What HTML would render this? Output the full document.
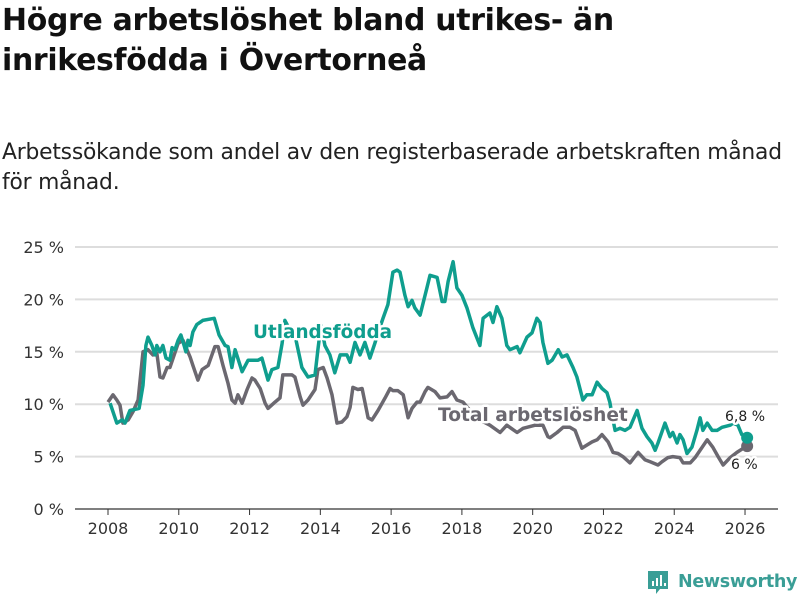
<!DOCTYPE html>
<html><head><meta charset="utf-8">
<style>
body{margin:0;width:800px;height:600px;background:#fff;font-family:"DejaVu Sans","Liberation Sans",sans-serif;overflow:hidden;position:relative;color:#111}
#title{position:absolute;left:2px;top:1px;font-size:29.9px;font-weight:bold;line-height:40px;margin:0;letter-spacing:-0.3px}
#subtitle{position:absolute;left:2px;top:138px;font-size:21.8px;line-height:30px;margin:0;color:#222;letter-spacing:-0.2px}
#chart{position:absolute;left:0;top:0}
#logo{position:absolute;left:646px;top:569px;display:flex;align-items:center;color:#3a9e96;font-size:17.5px;font-weight:bold;letter-spacing:-0.3px}
</style></head><body>
<h1 id="title">Högre arbetslöshet bland utrikes- än<br>inrikesfödda i Övertorneå</h1>
<p id="subtitle">Arbetssökande som andel av den registerbaserade arbetskraften månad<br>för månad.</p>
<svg id="chart" width="800" height="600"></svg>
<div id="logo"><svg width="24" height="26" style="margin-right:8px"><path d="M2 2h20v18h-8l-4 5v-5H2z" fill="#3a9e96"/><rect x="6" y="12" width="2" height="5" fill="#fff"/><rect x="10" y="9" width="2" height="8" fill="#fff"/><rect x="14" y="6" width="2" height="11" fill="#fff"/><rect x="18" y="14" width="2" height="3" fill="#fff"/></svg>Newsworthy</div>
<script>
const yTicks=[0,5,10,15,20,25];
const xTicks=[2008,2010,2012,2014,2016,2018,2020,2022,2024,2026];
const utlT=[0.06,0.25,0.40,0.48,0.62,0.88,0.99,1.07,1.13,1.24,1.33,1.38,1.47,1.55,1.64,1.75,1.81,1.89,1.98,2.06,2.15,2.20,2.26,2.32,2.40,2.51,2.68,3.00,3.14,3.31,3.39,3.50,3.59,3.79,3.96,4.24,4.35,4.52,4.63,4.80,4.92,5.00,5.14,5.28,5.48,5.65,5.85,5.93,6.02,6.13,6.27,6.41,6.56,6.75,6.84,6.98,7.12,7.26,7.40,7.54,7.66,7.77,7.91,8.05,8.17,8.25,8.39,8.48,8.59,8.67,8.82,9.01,9.10,9.30,9.44,9.52,9.61,9.75,9.86,10.00,10.14,10.31,10.51,10.60,10.79,10.88,10.99,11.13,11.27,11.36,11.56,11.64,11.84,11.98,12.12,12.21,12.29,12.43,12.55,12.72,12.83,12.97,13.14,13.25,13.42,13.53,13.68,13.82,13.96,14.10,14.18,14.24,14.33,14.47,14.61,14.75,14.95,15.09,15.23,15.37,15.46,15.54,15.74,15.88,15.96,16.08,16.16,16.25,16.36,16.50,16.64,16.73,16.81,16.93,17.07,17.21,17.35,17.58,17.66,17.80,17.91,18.06];
const utlV=[10.1,8.2,8.5,8.2,9.4,9.6,11.8,15.6,16.4,15.6,14.7,15.6,15.0,15.6,14.4,14.2,15.4,15.2,16.1,16.6,15.6,15.0,16.1,15.6,16.9,17.6,18.0,18.2,16.6,15.6,15.5,13.5,15.2,13.1,14.2,14.2,14.4,12.3,13.3,13.5,15.8,18.0,17.1,16.6,13.5,12.6,12.8,15.2,17.6,15.6,14.7,13.0,14.7,14.7,14.0,15.9,14.7,15.9,14.4,15.8,17.1,18.2,19.5,22.6,22.8,22.6,20.4,19.3,19.9,19.2,18.5,21.1,22.3,22.1,19.8,19.8,21.7,23.6,21.1,20.4,19.2,17.3,15.6,18.2,18.7,17.8,19.3,18.2,15.6,15.2,15.5,14.9,16.4,16.8,18.2,17.8,15.9,13.9,14.2,15.2,14.5,14.7,13.5,12.6,10.4,10.9,10.9,12.1,11.5,11.1,10.2,9.0,7.5,7.7,7.5,7.8,9.4,7.7,6.9,6.3,5.6,6.3,8.2,6.9,7.3,6.3,7.1,6.6,5.3,5.9,7.5,8.7,7.5,8.2,7.5,7.5,7.8,8.0,8.2,8.0,7.1,6.8];
const totT=[0.00,0.14,0.25,0.34,0.42,0.57,0.71,0.85,0.99,1.13,1.27,1.38,1.47,1.55,1.67,1.75,1.89,1.98,2.12,2.32,2.40,2.54,2.66,2.83,3.02,3.11,3.25,3.39,3.50,3.59,3.67,3.79,3.93,4.07,4.15,4.30,4.44,4.52,4.72,4.86,4.94,5.20,5.28,5.43,5.51,5.65,5.85,5.93,6.08,6.19,6.33,6.47,6.61,6.75,6.84,6.92,7.06,7.18,7.35,7.46,7.63,7.83,7.97,8.05,8.19,8.34,8.48,8.59,8.73,8.82,8.96,9.04,9.24,9.38,9.58,9.72,9.86,10.03,10.23,10.51,10.79,11.08,11.27,11.56,11.73,12.07,12.29,12.43,12.49,12.69,12.86,13.05,13.20,13.39,13.53,13.68,13.82,13.96,14.13,14.27,14.41,14.55,14.75,14.98,15.17,15.32,15.54,15.65,15.82,15.96,16.16,16.25,16.45,16.59,16.73,16.93,17.09,17.24,17.38,17.58,17.77,18.00,18.06];
const totV=[10.2,10.9,10.4,9.9,8.2,8.5,9.3,10.4,15.0,15.2,14.7,14.9,12.6,12.5,13.5,13.5,14.9,15.8,16.1,14.5,13.7,12.3,13.3,13.7,15.5,15.5,13.7,12.0,10.4,10.1,10.9,10.1,11.4,12.5,12.3,11.5,10.1,9.6,10.2,10.6,12.8,12.8,12.6,10.7,9.9,10.4,11.4,13.3,13.5,12.5,10.9,8.2,8.3,8.8,9.7,11.6,11.4,11.5,8.7,8.5,9.4,10.6,11.5,11.3,11.3,10.9,8.7,9.6,10.2,10.2,11.2,11.6,11.2,10.6,10.7,11.2,10.4,10.2,9.4,8.5,8.0,7.3,8.0,7.3,7.7,8.0,8.0,6.9,6.8,7.3,7.8,7.8,7.5,5.8,6.1,6.4,6.6,7.1,6.4,5.4,5.3,5.0,4.4,5.4,4.7,4.5,4.2,4.5,4.9,5.0,4.9,4.4,4.4,4.9,5.6,6.6,5.9,5.0,4.2,4.9,5.4,5.9,6.0];

const svg=document.getElementById('chart');
const NS='http://www.w3.org/2000/svg';
const xS=t=>108+(t-2008)*35.39;
const yS=v=>509-v*10.48;
function mk(tag,attrs,parent){const e=document.createElementNS(NS,tag);for(const k in attrs)e.setAttribute(k,attrs[k]);(parent||svg).appendChild(e);return e;}
yTicks.forEach(v=>{
  const g=mk('line',{x1:75,x2:778,y1:yS(v),y2:yS(v),stroke:v===0?'#333':'#ddd','stroke-width':v===0?1.2:2});
  
  
  const t=mk('text',{x:64,y:yS(v)+6,'text-anchor':'end','font-size':16,fill:'#333'});
  t.textContent=v+' %';
  
  
});
xTicks.forEach(y=>{
  const tk=mk('line',{x1:xS(y),x2:xS(y),y1:509,y2:515,stroke:'#333'});
  
  
  const t=mk('text',{x:xS(y),y:534,'text-anchor':'middle','font-size':16,fill:'#333'});
  t.textContent=y;
  
  
});
function line(T,V,color,name){
  const d=T.map((t,i)=>(i?'L':'M')+xS(2008+t).toFixed(1)+' '+yS(V[i]).toFixed(1)).join('');
  const p=mk('path',{d:d,fill:'none',stroke:color,'stroke-width':3.5,'stroke-linejoin':'round'});
  
  
  const n=T.length-1;
  const c=mk('circle',{cx:xS(2008+T[n]),cy:yS(V[n]),r:6,fill:color});
  
  
}
line(totT,totV,'#6b6870','total-line');
line(utlT,utlV,'#0f9e8e','utlandsfodda-line');
function lbl(x,y,txt,color,size,weight,name){
  const t=mk('text',{x:x,y:y,'font-size':size,'font-weight':weight,fill:color,stroke:'#fff','stroke-width':5,'paint-order':'stroke','stroke-linejoin':'round'});
  t.textContent=txt;
  
  
}
lbl(253,338,'Utlandsfödda','#0f9e8e',18.4,'bold','utlandsfodda-label');
lbl(438,421,'Total arbetslöshet','#6b6870',18.6,'bold','total-label');
const nU=utlV.length-1, nT=totV.length-1;
lbl(725,421,String(utlV[nU]).replace('.',',')+' %','#222',14,'normal','utlandsfodda-end-value');
lbl(731,469,String(totV[nT]).replace('.',',')+' %','#222',14,'normal','total-end-value');
</script>
</body></html>
